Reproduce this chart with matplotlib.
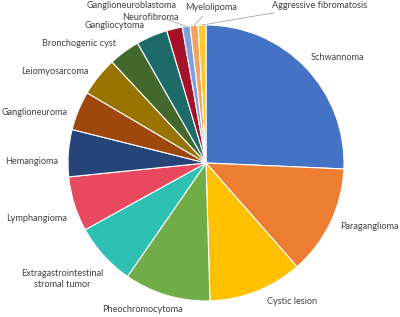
import numpy as np
import matplotlib.pyplot as plt

labels = ["Schwannoma", "Paraganglioma", "Cystic lesion", "Pheochromocytoma",
          "Extragastrointestinal\nstromal tumor", "Lymphangioma", "Hemangioma",
          "Ganglioneuroma", "Leiomyosarcoma", "Bronchogenic cyst", "Gangliocytoma",
          "Neurofibroma", "Ganglioneuroblastoma", "Myelolipoma",
          "Aggressive fibromatosis"]
counts = [28, 14, 12, 11, 8, 7, 6, 5, 5, 4, 4, 2, 1, 1, 1]
colors = ["#4472C4", "#ED7D31", "#FFC000", "#70AD47", "#2EC0B2", "#E8495F",
          "#264478", "#9E480E", "#997300", "#43682B", "#1D6B68", "#A5122A",
          "#7FA0DC", "#F4A35E", "#FFC82E"]

# label centres in picture pixels (x from left, y from top)
label_px = [(337, 57), (369, 227), (292, 302), (142, 310), (62, 279),
            (37, 219), (32, 162), (35, 113), (55, 72), (79, 43), (115, 25),
            (150, 17), (177, 6), (185, 7), (272, 5)]
leader = [False] * 12 + [True, True, True]

cx, cy, R = 206, 163, 138


def to_data(p):
    return (p[0] - cx) / R, (cy - p[1]) / R


fig = plt.figure(figsize=(4.0, 3.17), dpi=100)
ax = fig.add_axes([(cx - R) / 400, (317 - cy - R) / 317, 2 * R / 400, 2 * R / 317])
wedges, _ = ax.pie(counts, colors=colors, startangle=90, counterclock=False,
                   wedgeprops=dict(edgecolor="white", linewidth=0.8))
ax.set_xlim(-1, 1)
ax.set_ylim(-1, 1)
ax.set_aspect("equal")

font = dict(family="Lato", fontsize=6.6, color="#404040")
for i, w in enumerate(wedges):
    tx, ty = to_data(label_px[i])
    if not leader[i]:
        ax.text(tx, ty, labels[i], ha="center", va="center", clip_on=False,
                linespacing=1.4, **font)
    else:
        ang = np.deg2rad((w.theta1 + w.theta2) / 2)
        ha = "right" if i == 12 else "left"
        ax.annotate(labels[i], xy=(np.cos(ang), np.sin(ang)), xytext=(tx, ty),
                    ha=ha, va="center", annotation_clip=False,
                    arrowprops=dict(arrowstyle="-", color="#A6A6A6", lw=0.6,
                                    shrinkA=2, shrinkB=0), **font)

plt.savefig("out.png", dpi=100)
